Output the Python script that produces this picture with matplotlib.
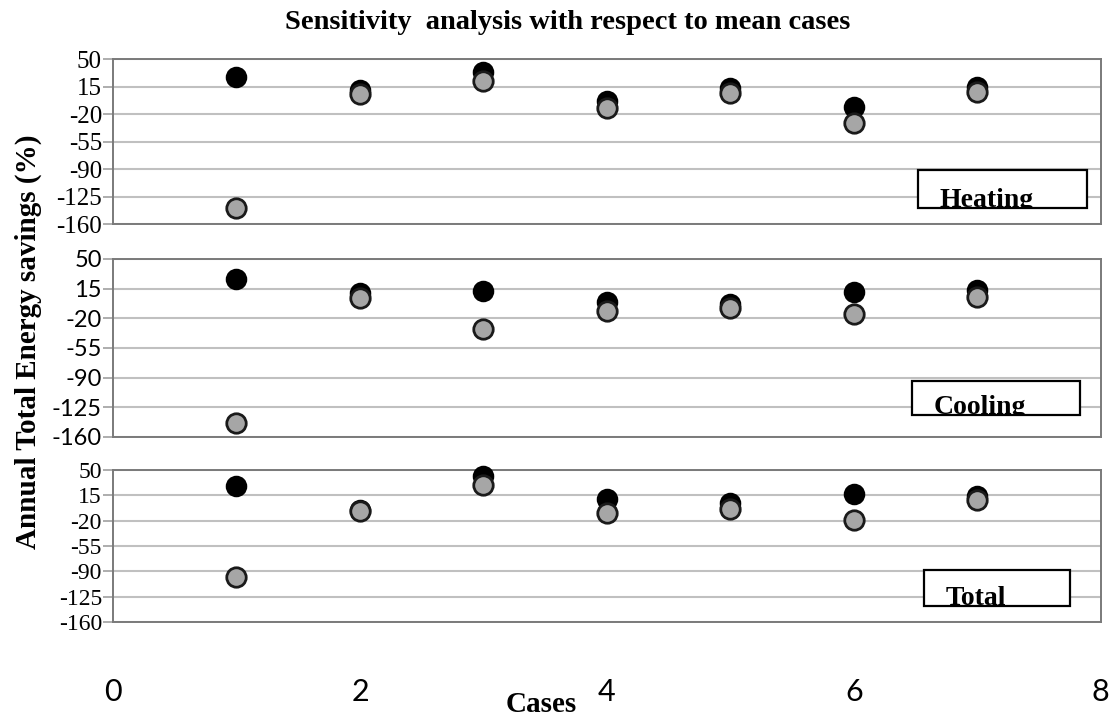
import numpy as np
import matplotlib.pyplot as plt
from matplotlib.patches import Rectangle
from matplotlib.transforms import Bbox, TransformedBbox

cases = [1, 2, 3, 4, 5, 6, 7]
yticks = [50, 15, -20, -55, -90, -125, -160]
xticks = [0, 2, 4, 6, 8]

# black / grey markers for each panel
heating_black = [27.5, 10.6, 33.9, -3.0, 12.8, -11.4, 14.8]
heating_grey = [-139, 5.1, 22.4, -12.6, 7.2, -30.9, 8.5]
cooling_black = [26.4, 9.5, 12.6, -0.4, -3.2, 10.6, 13.4]
cooling_grey = [-143, 3.5, -32.7, -11.0, -8.3, -15.0, 5.4]
total_black = [28.4, -5.0, 41.7, 9.6, 4.0, 16.9, 14.1]
total_grey = [-98.5, -6.6, 29.3, -8.9, -4.3, -19.0, 8.6]

serif = 'Liberation Serif'
sans = 'Lato'

fig = plt.figure(figsize=(11.2, 7.16), dpi=100)

# [left, bottom, width, height], tick font, label box (x0, y0, x1, y1) in axes frac
panels = [
    ('Heating', heating_black, heating_grey, [0.1009, 0.687, 0.882, 0.2304], serif, 18, (0.815, 0.097, 0.986, 0.327)),
    ('Cooling', cooling_black, cooling_grey, [0.1009, 0.3897, 0.882, 0.2486], sans, 17, (0.809, 0.124, 0.979, 0.315)),
    ('Total', total_black, total_grey, [0.1009, 0.1313, 0.882, 0.2123], serif, 17, (0.821, 0.105, 0.969, 0.342)),
]

for name, blk, gry, pos, fam, fs, box in panels:
    ax = fig.add_axes(pos)
    ax.set_xlim(0, 8)
    ax.set_ylim(-160, 50)
    ax.set_yticks(yticks)
    ax.set_yticklabels([str(t) for t in yticks], fontfamily=fam, fontsize=fs)
    ax.grid(axis='y', color='#c0c0c0', lw=1.5, zorder=0)
    ax.tick_params(axis='y', length=7, width=1.2, color='#a0a0a0', pad=1)
    for s in ax.spines.values():
        s.set_color('#7a7a7a')
        s.set_linewidth(1.4)
    ax.plot(cases, blk, 'o', ms=14, mfc='black', mec='black', mew=1.5, zorder=3, clip_on=False)
    ax.plot(cases, gry, 'o', ms=14, mfc='#a6a6a6', mec='#1a1a1a', mew=2, zorder=4, clip_on=False)

    # label box, text cut off at the bottom edge like the original
    x0, y0, x1, y1 = box
    rect = Rectangle((x0, y0), x1 - x0, y1 - y0, transform=ax.transAxes,
                     fc='white', ec='black', lw=1.6, zorder=5)
    ax.add_patch(rect)
    t = ax.text(x0 + 0.022, y0 + 0.004, name, transform=ax.transAxes, fontfamily=serif,
                fontweight='bold', fontsize=20, va='baseline', ha='left', zorder=6)
    t.set_clip_path(None)
    t.set_clip_box(TransformedBbox(Bbox([[x0, y0], [x1, y1]]), ax.transAxes))
    t.set_clip_on(True)

    if name != 'Total':
        ax.tick_params(axis='x', bottom=False, labelbottom=False)
    else:
        ax.set_xticks(xticks)
        ax.set_xticklabels([str(t) for t in xticks], fontfamily=sans, fontsize=22)
        ax.tick_params(axis='x', length=0, pad=40)

fig.text(0.507, 0.969, 'Sensitivity  analysis with respect to mean cases', ha='center', va='center',
         fontfamily=serif, fontweight='bold', fontsize=20.5)
fig.text(0.025, 0.522, 'Annual Total Energy savings (%)', ha='center', va='center', rotation=90,
         fontfamily=serif, fontweight='bold', fontsize=21)
fig.text(0.483, 0.016, 'Cases', ha='center', va='center',
         fontfamily=serif, fontweight='bold', fontsize=21)

plt.savefig('out.png', dpi=100)
